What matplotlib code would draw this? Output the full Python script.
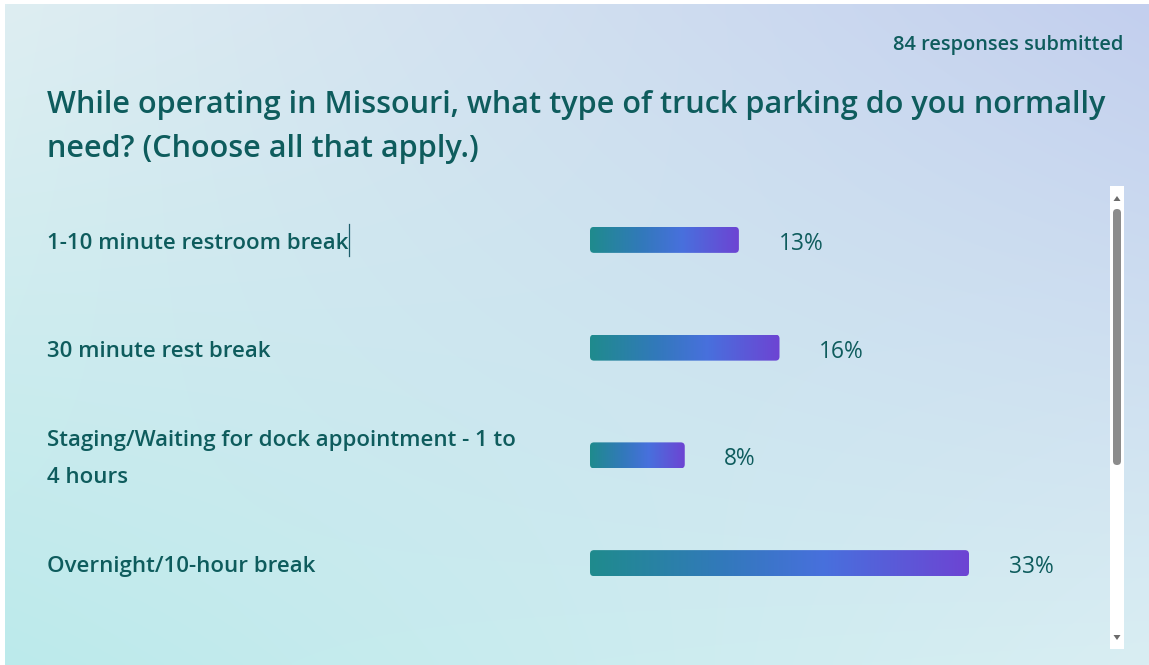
import numpy as np
import matplotlib
matplotlib.use("Agg")
import matplotlib.pyplot as plt
from matplotlib.patches import FancyBboxPatch, Rectangle, Polygon
from matplotlib.transforms import blended_transform_factory
from matplotlib.colors import LinearSegmentedColormap

# ---- survey data ----
title_lines = [
    "While operating in Missouri, what type of truck parking do you normally",
    "need? (Choose all that apply.)",
]
categories = [
    "1-10 minute restroom break",
    "30 minute rest break",
    "Staging/Waiting for dock appointment - 1 to\n4 hours",
    "Overnight/10-hour break",
]
counts = [11, 14, 7, 28]
total_responses = 84
summary_text = f"{total_responses} responses submitted"

percents = [c / total_responses * 100 for c in counts]

# ---- styling ----
W, H = 1149, 665
TEXT = "#0e5c5d"
FONT = ["Open Sans", "DejaVu Sans"]
plt.rcParams["font.family"] = FONT
PT = 72 / 100  # points per pixel at 100 dpi

fig = plt.figure(figsize=(W / 100, H / 100), dpi=100)
fig.patch.set_facecolor("white")

# background panel with a soft four-corner gradient
bg = fig.add_axes([0, 0, 1, 1])
bg.axis("off")
tl = np.array([222, 238, 242]) / 255
tr = np.array([195, 207, 238]) / 255
bl = np.array([188, 234, 235]) / 255
br = np.array([217, 238, 243]) / 255
gx = np.linspace(0, 1, 300)[None, :, None]
gy = np.linspace(0, 1, 200)[:, None, None]
grad = (1 - gy) * ((1 - gx) * tl + gx * tr) + gy * ((1 - gx) * bl + gx * br)
bg.imshow(grad, extent=(5, W, H, 4), aspect="auto", interpolation="bilinear", zorder=0)
bg.set_xlim(0, W)
bg.set_ylim(H, 0)

# scrollbar
bg.add_patch(Rectangle((1110, 186), 14, 463, facecolor="white", edgecolor="none", zorder=1))
bg.add_patch(FancyBboxPatch((1113, 209), 8, 256, boxstyle="round,pad=0,rounding_size=4",
                            facecolor="#8c8c8c", edgecolor="none", zorder=2))
bg.add_patch(Polygon([[1113.5, 201], [1120.5, 201], [1117, 196]], closed=True,
                     facecolor="#6b6b6b", edgecolor="none", zorder=2))
bg.add_patch(Polygon([[1113.5, 635], [1120.5, 635], [1117, 640]], closed=True,
                     facecolor="#6b6b6b", edgecolor="none", zorder=2))

# header texts
fig.text(1123 / W, 1 - 50 / H, summary_text, ha="right", va="baseline",
         fontsize=14.4, color=TEXT, fontweight="semibold")
fig.text(47 / W, 1 - 113 / H, title_lines[0], ha="left", va="baseline",
         fontsize=22.1, color=TEXT, fontweight="semibold")
fig.text(47 / W, 1 - 157 / H, title_lines[1], ha="left", va="baseline",
         fontsize=22.1, color=TEXT, fontweight="semibold")

# ---- bar chart ----
px_per_pct = 11.37
x0_px, x1_px = 590, 1100
y_top_px, y_bot_px = 186, 617
ax = fig.add_axes([x0_px / W, 1 - y_bot_px / H, (x1_px - x0_px) / W, (y_bot_px - y_top_px) / H])
ax.set_facecolor("none")
ax.axis("off")
xmax = (x1_px - x0_px) / px_per_pct
n = len(categories)
ypos = np.arange(n)
ax.set_xlim(0, xmax)
ax.set_ylim(n - 0.5, -0.5)

bar_h = 26 / ((y_bot_px - y_top_px) / n)
bars = ax.barh(ypos, percents, height=bar_h, color="none", edgecolor="none")

cmap = LinearSegmentedColormap.from_list(
    "barfill", [(0.0, "#1f8b8d"), (0.35, "#3279bb"), (0.62, "#4870dd"), (1.0, "#6d44d3")])
data_x_per_px = xmax / (x1_px - x0_px)
data_y_per_px = n / (y_bot_px - y_top_px)
radius_px = 4
ramp = np.linspace(0, 1, 256)[None, :]
for bar in bars:
    bx, by, bw, bh = bar.get_x(), bar.get_y(), bar.get_width(), bar.get_height()
    shape = FancyBboxPatch((bx, by), bw, bh,
                           boxstyle=f"round,pad=0,rounding_size={radius_px * data_x_per_px}",
                           mutation_aspect=data_y_per_px / data_x_per_px,
                           facecolor="none", edgecolor="none", transform=ax.transData)
    ax.add_patch(shape)
    im = ax.imshow(ramp, cmap=cmap, extent=(bx, bx + bw, by + bh, by),
                   aspect="auto", interpolation="bilinear", zorder=2)
    im.set_clip_path(shape)

ax.set_xlim(0, xmax)
ax.set_ylim(n - 0.5, -0.5)

# percentage labels (whole percent, truncated)
for i, p in enumerate(percents):
    ax.annotate(f"{int(p)}%", xy=(p, i), xytext=(28.5, -10 * PT), textcoords="offset points",
                ha="left", va="baseline", fontsize=16.4, color=TEXT, annotation_clip=False)

# option labels on the left, one text per line so each baseline sits on the grid
label_tf = blended_transform_factory(fig.transFigure, ax.transData)
line_gap_px = 37
baseline_drop_px = 9
first_label = None
for i, cat in enumerate(categories):
    lines = cat.split("\n")
    top_offset = baseline_drop_px - (len(lines) - 1) * line_gap_px / 2
    for k, line in enumerate(lines):
        dy_px = top_offset + k * line_gap_px
        t = ax.annotate(line, xy=(47 / W, i), xycoords=label_tf,
                        xytext=(0, -dy_px * PT), textcoords="offset points",
                        ha="left", va="baseline", fontsize=16, color=TEXT,
                        fontweight="semibold", annotation_clip=False)
        if first_label is None:
            first_label = t

# text caret after the first option
fig.canvas.draw()
ext = first_label.get_window_extent()
cx = (ext.x1 + 1) / W
cy_mid = 1 - 240 / H
fig.add_artist(plt.Line2D([cx, cx], [cy_mid - 16 / H, cy_mid + 16 / H], transform=fig.transFigure,
                          color="#1d5e6b", linewidth=0.9))

fig.savefig("out.png", dpi=100)
